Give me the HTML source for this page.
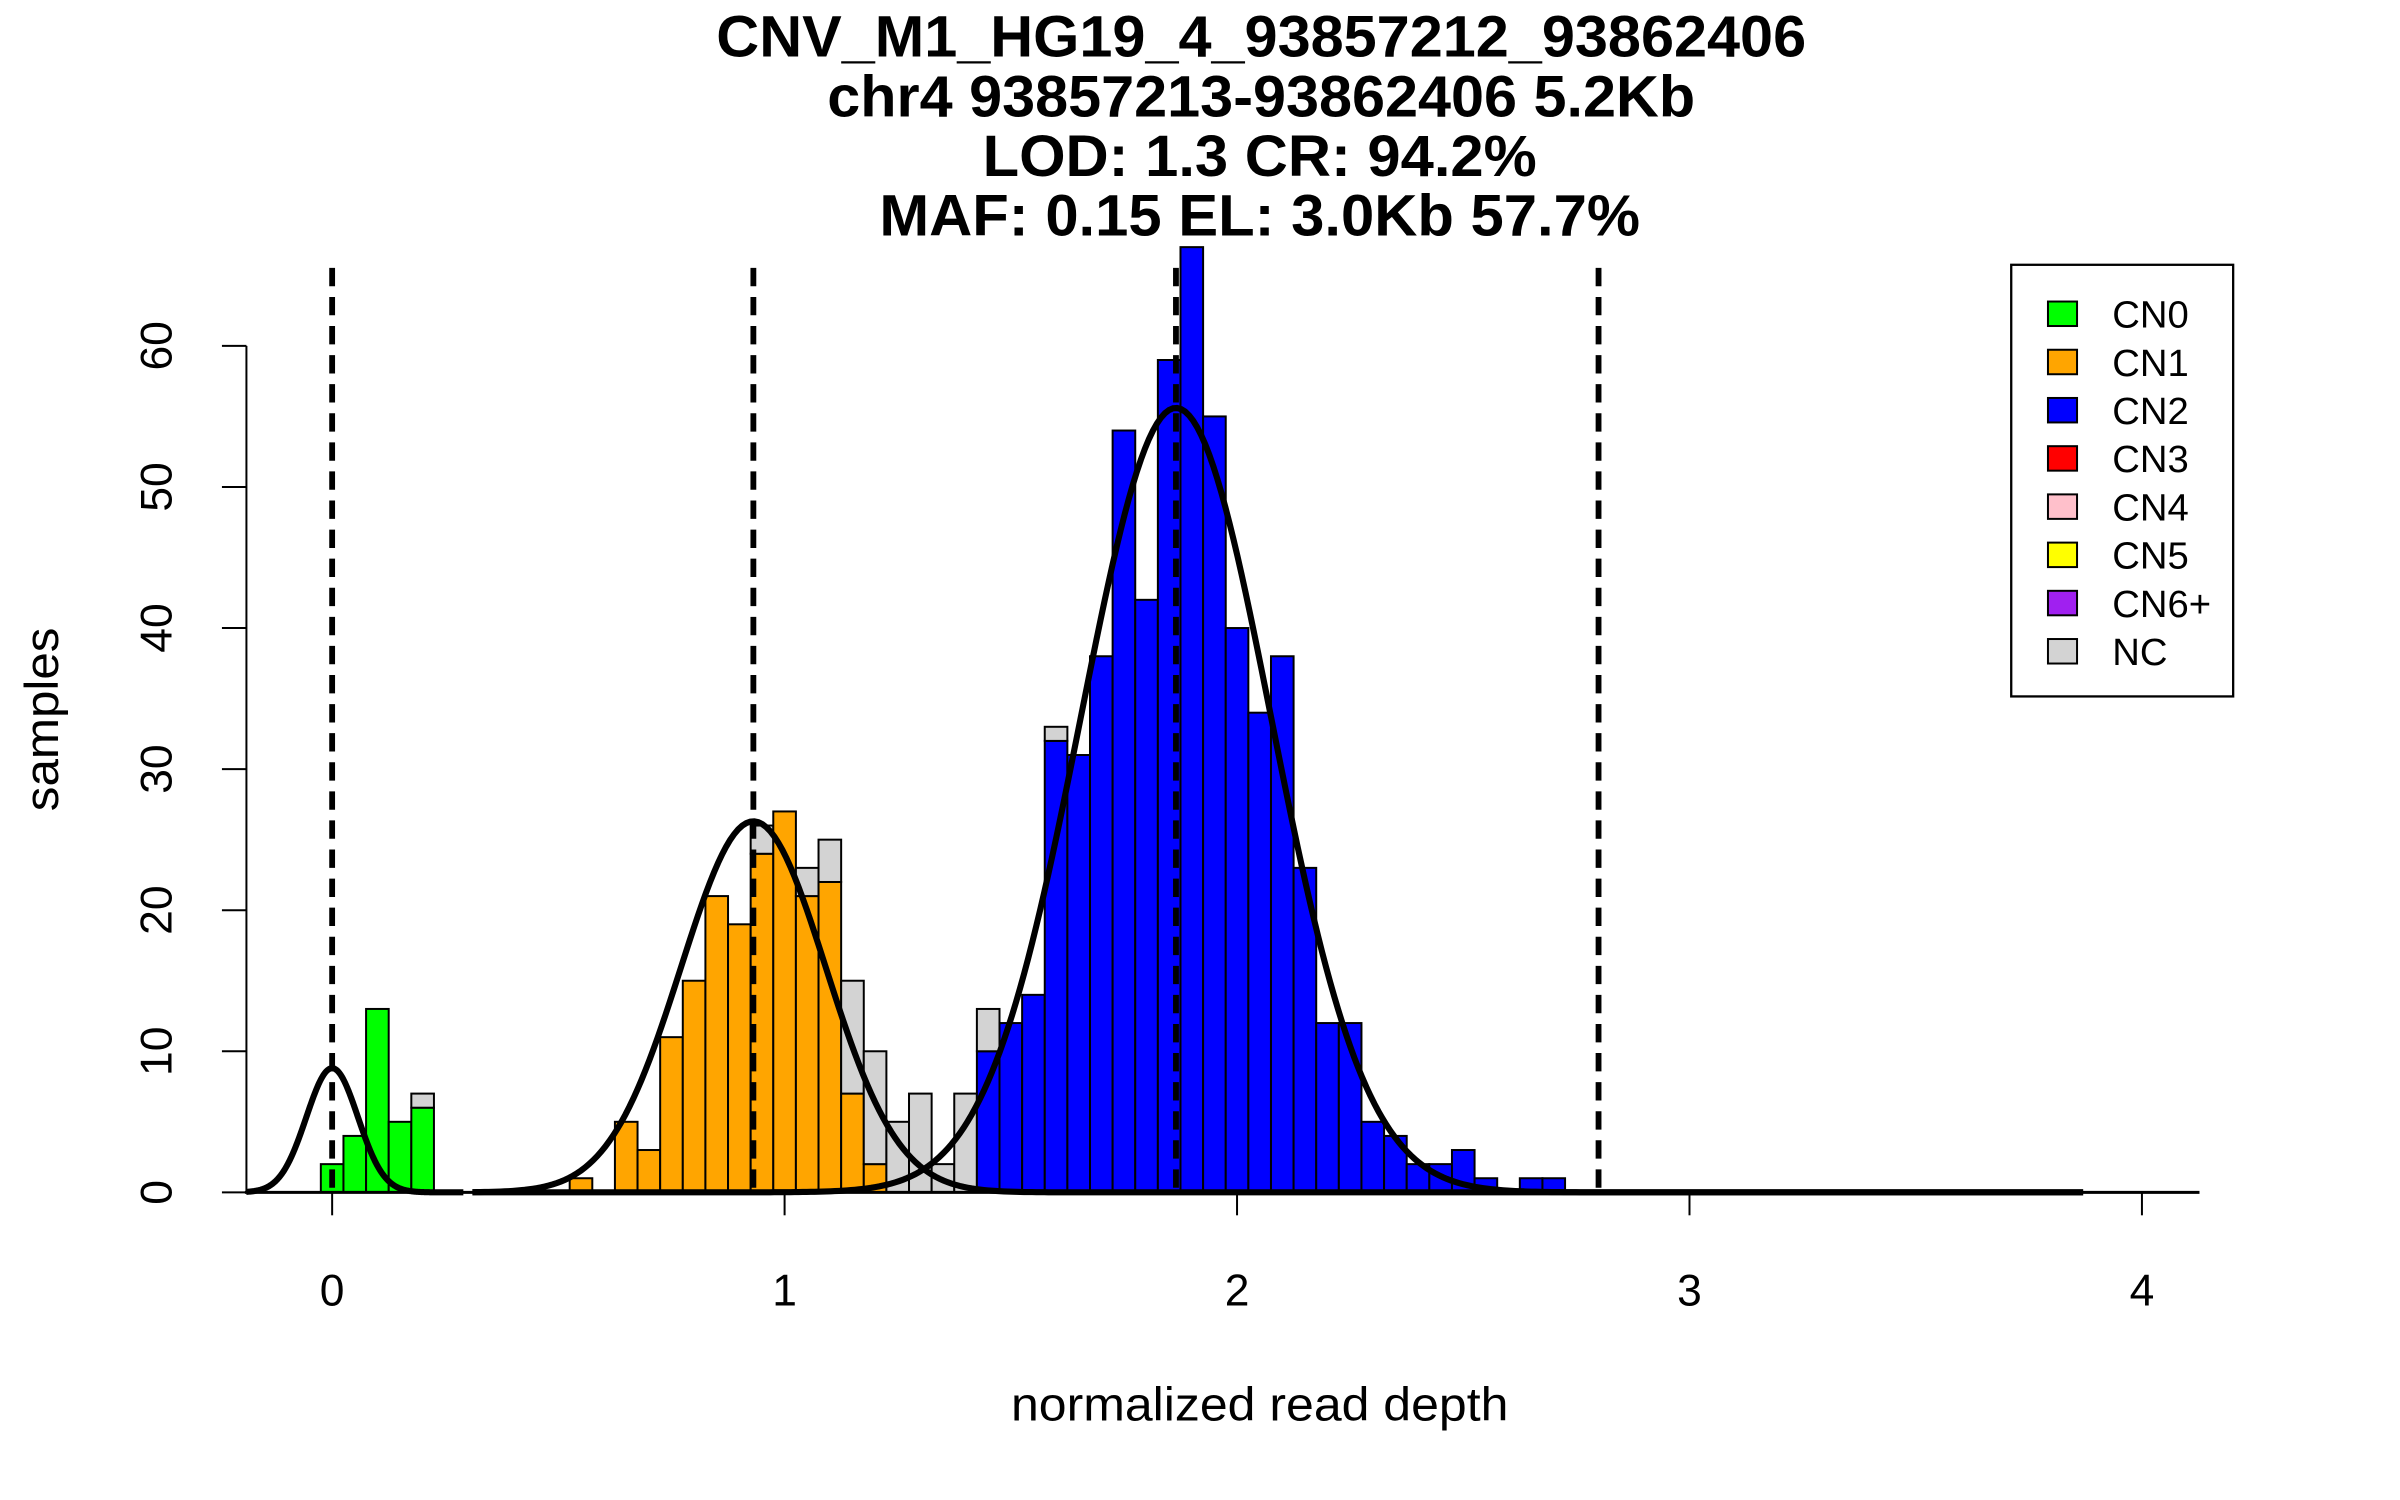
<!DOCTYPE html>
<html><head><meta charset="utf-8"><style>
html,body{margin:0;padding:0;background:#fff;}
svg{display:block;}
text{font-family:"Liberation Sans",sans-serif;fill:#000;}
</style></head><body>
<svg id="chart" width="2400" height="1500" viewBox="0 0 1568 980" xmlns="http://www.w3.org/2000/svg">
<g font-weight="bold" text-anchor="middle">
<text x="824" y="37" font-size="38" textLength="712" lengthAdjust="spacingAndGlyphs">CNV_M1_HG19_4_93857212_93862406</text>
<text x="824" y="76" font-size="38" textLength="567" lengthAdjust="spacingAndGlyphs">chr4 93857213-93862406 5.2Kb</text>
<text x="823" y="115" font-size="38" textLength="362" lengthAdjust="spacingAndGlyphs">LOD: 1.3 CR: 94.2%</text>
<text x="823" y="154" font-size="38" textLength="497" lengthAdjust="spacingAndGlyphs">MAF: 0.15 EL: 3.0Kb 57.7%</text>
</g>
<text x="823" y="928" font-size="31" text-anchor="middle" textLength="325" lengthAdjust="spacingAndGlyphs">normalized read depth</text>
<text transform="translate(38,470) rotate(-90)" font-size="31" text-anchor="middle" textLength="120" lengthAdjust="spacingAndGlyphs">samples</text>
<g id="bars"></g>
<g id="curves"></g>
<g id="vlines"></g>
<g id="axes"></g>
<g>
<rect x="1314" y="173" width="145" height="282" fill="#fff" stroke="#000" stroke-width="1.5"/>
<g id="legend"></g>
</g>
</svg>
<script>
// ---- data ----
const binStart = -0.025, binWidth = 0.05;
const cn0Counts = [2,4,13,5,6];
const cn1Counts = [0,0,0,0,0,0,0,0,0,0,0,1,0,5,3,11,15,21,19,24,27,21,22,7,2,0,0,0,0,0];
const cn2Counts = [0,0,0,0,0,0,0,0,0,0,0,0,0,0,0,0,0,0,0,0,0,0,0,0,0,0,0,0,0,10,12,14,32,31,38,54,42,59,67,55,40,34,38,23,12,12,5,4,2,2,3,1,0,1,1];
const ncCounts  = [0,0,0,0,1,0,0,0,0,0,0,0,0,0,0,0,0,0,0,2,0,2,3,8,8,5,7,2,7,3,0,0,1];
const compMeans = [0, 0.931, 1.865];
const compSds = [0.057, 0.16, 0.21];
const compPeaks = [8.8, 26.3, 55.6];
const compRanges = [[-0.19,0.29],[0.31,3.87],[0.31,3.87]];
const xTicks = [0,1,2,3,4];
const yTicks = [0,10,20,30,40,50,60];
const legendLabels = ["CN0","CN1","CN2","CN3","CN4","CN5","CN6+","NC"];
const legendColors = ["#00ff00","#ffa500","#0000ff","#ff0000","#ffc0cb","#ffff00","#a020f0","#d3d3d3"];
// ---- scales ----
const X = v => 217 + v*295.6;
const Y = v => 779 - v*9.217;
const NS = "http://www.w3.org/2000/svg";
function mk(tag, attrs, parent){const e=document.createElementNS(NS,tag);for(const k in attrs)e.setAttribute(k,attrs[k]);parent.appendChild(e);return e;}
const bars = document.getElementById('bars');
const n = Math.max(cn0Counts.length,cn1Counts.length,cn2Counts.length,ncCounts.length);
for(let k=0;k<n;k++){
  const x0 = binStart + k*binWidth;
  let base = 0;
  const layers = [[cn0Counts[k]||0,"#00ff00","cn0"],[cn1Counts[k]||0,"#ffa500","cn1"],[cn2Counts[k]||0,"#0000ff","cn2"],[ncCounts[k]||0,"#d3d3d3","nc"]];
  for(const [c,col,nm] of layers){
    if(c<=0) continue;
    const r = mk('rect',{x:X(x0),y:Y(base+c),width:X(x0+binWidth)-X(x0),height:Y(base)-Y(base+c),fill:col,stroke:"#000","stroke-width":1.3},bars);
    
    
    base += c;
  }
}
const curves = document.getElementById('curves');
for(let i=0;i<compMeans.length;i++){
  const [a,b]=compRanges[i];let d="";
  for(let j=0;j<=400;j++){const v=a+(b-a)*j/400;const yv=compPeaks[i]*Math.exp(-0.5*Math.pow((v-compMeans[i])/compSds[i],2));d+=(j?"L":"M")+X(v).toFixed(2)+","+Y(yv).toFixed(2);}
  const p = mk('path',{d:d,fill:"none",stroke:"#000","stroke-width":4},curves);
  
  
}
const vl = document.getElementById('vlines');
const vlinePos = [compMeans[0],compMeans[1],compMeans[2],compMeans[2]+(compMeans[2]-compMeans[1])];
vlinePos.forEach((v,i)=>{
  const l = mk('line',{x1:X(v),x2:X(v),y1:175,y2:779,stroke:"#000","stroke-width":3.8,"stroke-dasharray":"12,7"},vl);
  
  
});
const axes = document.getElementById('axes');
const xl = mk('line',{x1:160,x2:1437,y1:779,y2:779,stroke:"#000","stroke-width":2},axes);


xTicks.forEach(t=>{
  const tk = mk('line',{x1:X(t),x2:X(t),y1:779,y2:794,stroke:"#000","stroke-width":1.3},axes);
  
  
  const tx = mk('text',{x:X(t),y:853,"font-size":29,"text-anchor":"middle"},axes);
  tx.textContent = t;
  
  
});
const yl = mk('line',{x1:161,x2:161,y1:Y(0),y2:Y(60),stroke:"#000","stroke-width":1.3},axes);


yTicks.forEach(t=>{
  const tk = mk('line',{x1:145,x2:161,y1:Y(t),y2:Y(t),stroke:"#000","stroke-width":1.3},axes);
  
  
  const tx = mk('text',{transform:"translate(112,"+Y(t)+") rotate(-90)","font-size":29,"text-anchor":"middle"},axes);
  tx.textContent = t;
  
  
});
const lg = document.getElementById('legend');
legendLabels.forEach((lab,i)=>{
  const cy = 205 + i*31.5;
  const sq = mk('rect',{x:1338,y:cy-8,width:19,height:16,fill:legendColors[i],stroke:"#000","stroke-width":1.3},lg);
  
  
  const tx = mk('text',{x:1380,y:cy+9,"font-size":25},lg);
  tx.textContent = lab;
  
  
});
</script>
</body></html>
